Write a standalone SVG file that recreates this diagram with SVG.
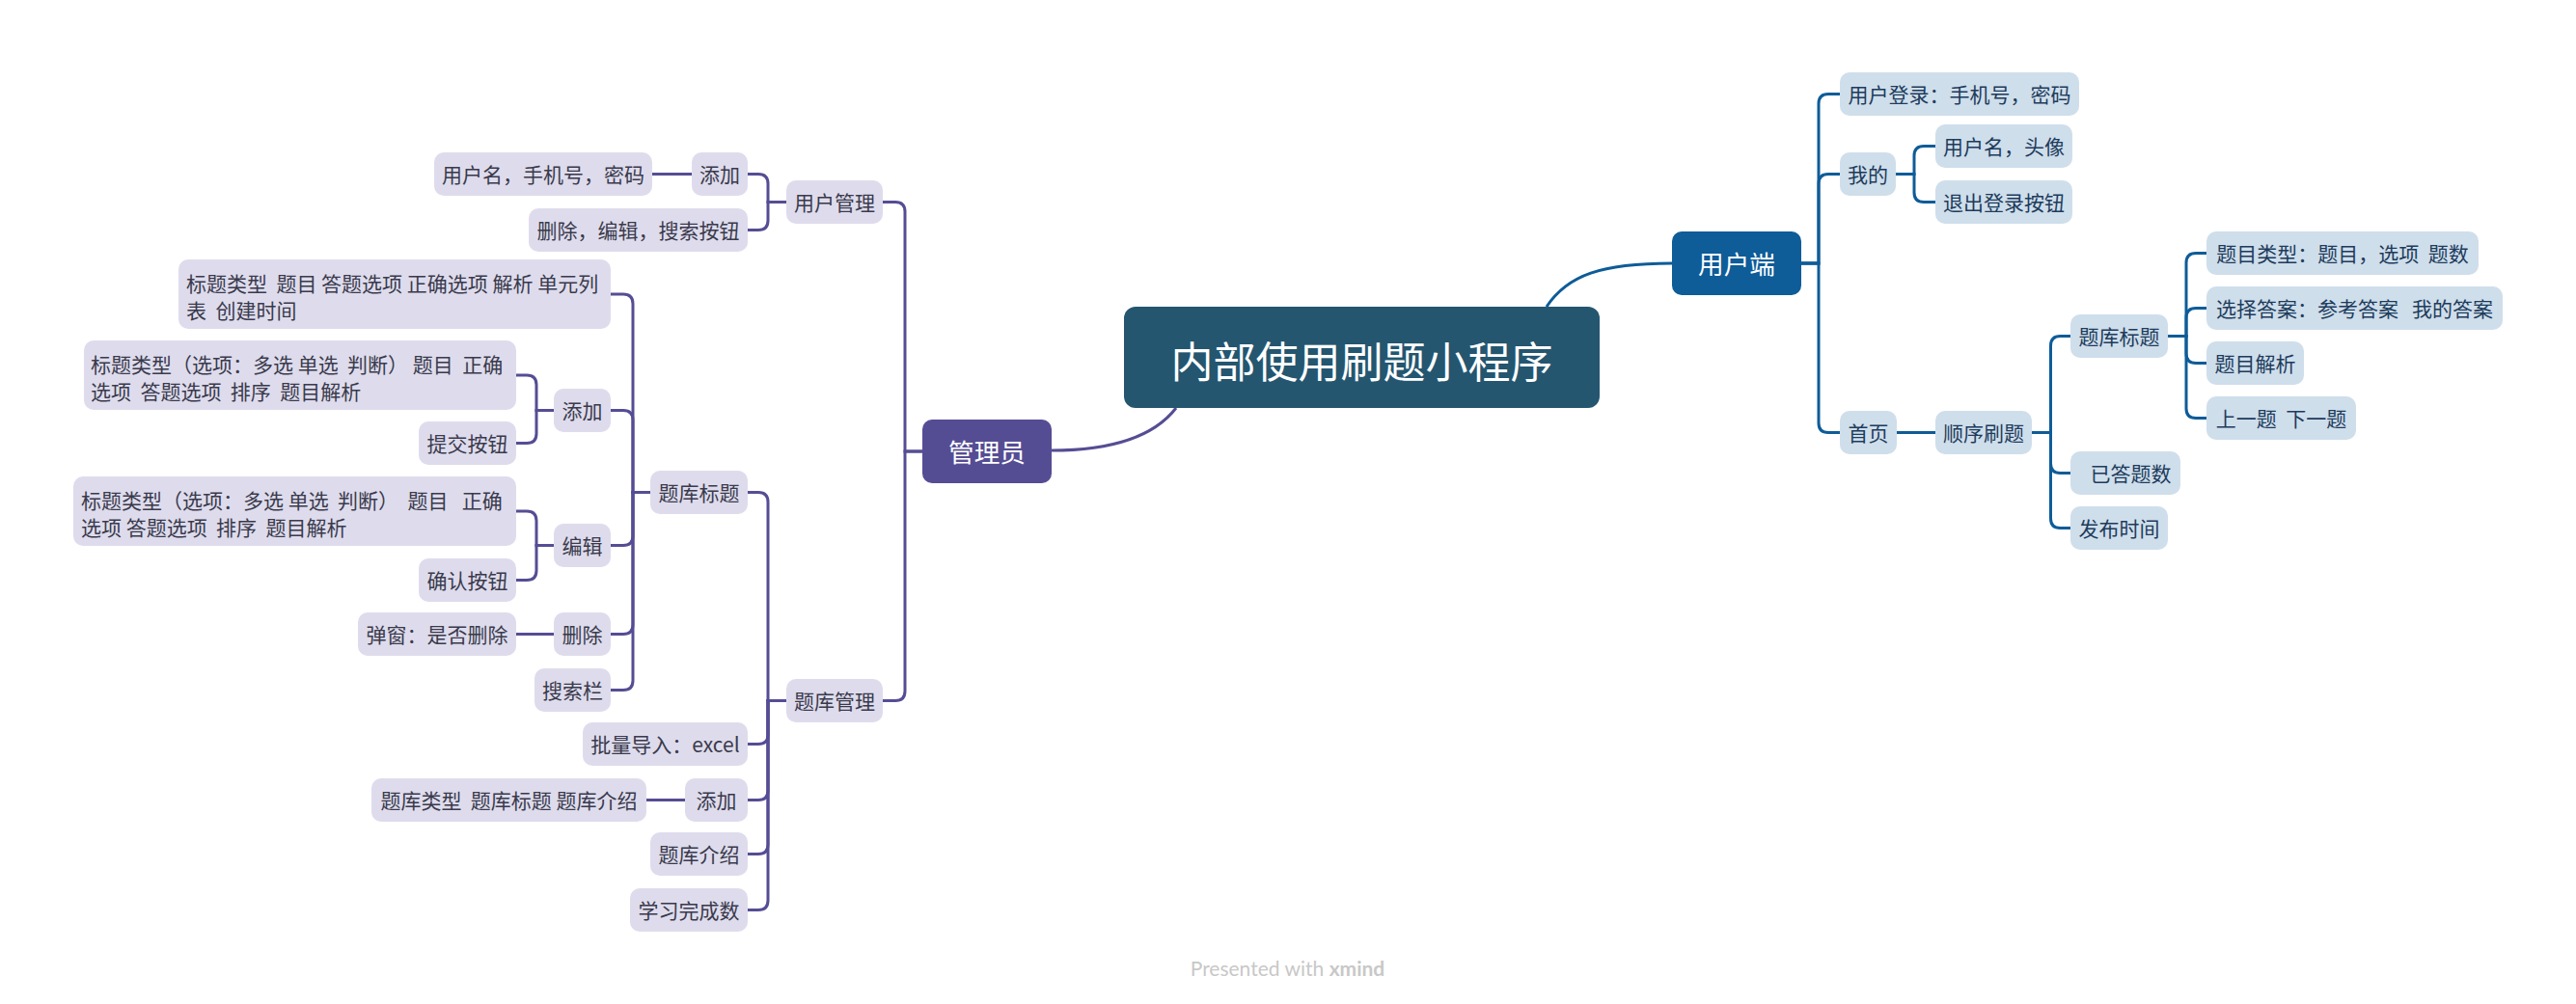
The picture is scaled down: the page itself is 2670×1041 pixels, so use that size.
<svg xmlns="http://www.w3.org/2000/svg" width="2670" height="1041" viewBox="0 0 2670 1041">
<style>
text{font-family:"Noto Sans CJK SC","Noto Sans",sans-serif;font-size:21px}
.L rect{fill:#dedcec}
.L text{fill:#3a3a4c;text-anchor:middle}
.R rect{fill:#cfdeeb}
.R text{fill:#1d3c5c;text-anchor:middle}
.L text.s,.R text.s{text-anchor:start}
.pc{fill:none;stroke:#554d94;stroke-width:3}
.bc{fill:none;stroke:#0e5c98;stroke-width:3}
.main text{fill:#ffffff;text-anchor:middle;font-size:26.67px}
#root text{fill:#ffffff;text-anchor:middle;font-size:44px}
#footer{font-family:Lato,"Open Sans",sans-serif;font-size:21px;fill:#c8c8c8;text-anchor:middle}
</style>
<rect width="2670" height="1041" fill="#ffffff"/>
<g id="connectors">
<path class="pc" stroke-width="4" d="M1219,423 Q1185,467 1090,467"/>
<path class="bc" stroke-width="4" d="M1603,318 C1625,285 1660,273 1733,273"/>
<path class="pc" d="M956,468 H938 V219.5 Q938,209.5 928,209.5 H915"/>
<path class="pc" d="M956,468 H938 V716.5 Q938,726.5 928,726.5 H915"/>
<path class="pc" d="M815,209.5 H796 V190.5 Q796,180.5 786,180.5 H775"/>
<path class="pc" d="M815,209.5 H796 V228.5 Q796,238.5 786,238.5 H775"/>
<path class="pc" d="M717,180.5 H676"/>
<path class="pc" d="M815,726.5 H796 V520.5 Q796,510.5 786,510.5 H775"/>
<path class="pc" d="M815,726.5 H796 V761.5 Q796,771.5 786,771.5 H775"/>
<path class="pc" d="M815,726.5 H796 V819.5 Q796,829.5 786,829.5 H775"/>
<path class="pc" d="M815,726.5 H796 V875.5 Q796,885.5 786,885.5 H775"/>
<path class="pc" d="M815,726.5 H796 V933.5 Q796,943.5 786,943.5 H775"/>
<path class="pc" d="M674,510.5 H656 V315 Q656,305 646,305 H633"/>
<path class="pc" d="M674,510.5 H656 V435.5 Q656,425.5 646,425.5 H633"/>
<path class="pc" d="M674,510.5 H656 V555.5 Q656,565.5 646,565.5 H633"/>
<path class="pc" d="M674,510.5 H656 V647.5 Q656,657.5 646,657.5 H633"/>
<path class="pc" d="M674,510.5 H656 V705.5 Q656,715.5 646,715.5 H633"/>
<path class="pc" d="M574,425.5 H556 V399 Q556,389 546,389 H535"/>
<path class="pc" d="M574,425.5 H556 V449.5 Q556,459.5 546,459.5 H535"/>
<path class="pc" d="M574,565.5 H556 V540 Q556,530 546,530 H535"/>
<path class="pc" d="M574,565.5 H556 V591.5 Q556,601.5 546,601.5 H535"/>
<path class="pc" d="M574,657.5 H535"/>
<path class="pc" d="M710,829.5 H670"/>
<path class="bc" d="M1867,273 H1885 V107.5 Q1885,97.5 1895,97.5 H1907"/>
<path class="bc" d="M1867,273 H1885 V190.5 Q1885,180.5 1895,180.5 H1907"/>
<path class="bc" d="M1867,273 H1885 V438.5 Q1885,448.5 1895,448.5 H1907"/>
<path class="bc" d="M1965,180.5 H1984 V161.5 Q1984,151.5 1994,151.5 H2006"/>
<path class="bc" d="M1965,180.5 H1984 V199.5 Q1984,209.5 1994,209.5 H2006"/>
<path class="bc" d="M1966,448.5 H2006"/>
<path class="bc" d="M2106,448.5 H2125.5 V358.5 Q2125.5,348.5 2135.5,348.5 H2146"/>
<path class="bc" d="M2106,448.5 H2125.5 V480.5 Q2125.5,490.5 2135.5,490.5 H2146"/>
<path class="bc" d="M2106,448.5 H2125.5 V537.5 Q2125.5,547.5 2135.5,547.5 H2146"/>
<path class="bc" d="M2247,348.5 H2266 V272.5 Q2266,262.5 2276,262.5 H2287"/>
<path class="bc" d="M2247,348.5 H2266 V329.5 Q2266,319.5 2276,319.5 H2287"/>
<path class="bc" d="M2247,348.5 H2266 V366.5 Q2266,376.5 2276,376.5 H2287"/>
<path class="bc" d="M2247,348.5 H2266 V423.5 Q2266,433.5 2276,433.5 H2287"/>
</g>
<g id="root">
<rect x="1165" y="318" width="493" height="105" rx="12" fill="#245670"/>
<text x="1411.5" y="392">内部使用刷题小程序</text>
</g>
<g id="admin" class="main"><rect x="956" y="435" width="134" height="66" rx="10" fill="#554d94"/><text x="1023" y="479">管理员</text></g>
<g id="user" class="main"><rect x="1733" y="240" width="134" height="66" rx="10" fill="#0e5c98"/><text x="1800" y="284">用户端</text></g>
<g class="L">
<g id="user_mgmt"><rect x="815" y="187" width="100" height="45" rx="10"/><text x="865" y="218">用户管理</text></g>
<g id="user_add"><rect x="717" y="158" width="58" height="45" rx="10"/><text x="746" y="189">添加</text></g>
<g id="user_fields"><rect x="450" y="158" width="226" height="45" rx="10"/><text x="563" y="189">用户名，手机号，密码</text></g>
<g id="user_ops"><rect x="548" y="216" width="227" height="45" rx="10"/><text x="661.5" y="247">删除，编辑，搜索按钮</text></g>
<g id="bank_mgmt"><rect x="815" y="704" width="100" height="45" rx="10"/><text x="865" y="735">题库管理</text></g>
<g id="bank_title"><rect x="674" y="488" width="101" height="45" rx="10"/><text x="724.5" y="519">题库标题</text></g>
<g id="bt_fields"><rect x="185" y="269" width="448" height="72" rx="10"/><text class="s" x="193" y="302" xml:space="preserve">标题类型  题目 答题选项 正确选项 解析 单元列</text><text class="s" x="193" y="330" xml:space="preserve">表  创建时间</text></g>
<g id="bt_add"><rect x="574" y="403" width="59" height="45" rx="10"/><text x="603.5" y="434">添加</text></g>
<g id="bt_add_fields"><rect x="87" y="353" width="448" height="72" rx="10"/><text class="s" x="94" y="386" xml:space="preserve">标题类型（选项：多选 单选  判断） 题目  正确</text><text class="s" x="94" y="414" xml:space="preserve">选项  答题选项  排序  题目解析</text></g>
<g id="bt_submit"><rect x="434" y="437" width="101" height="45" rx="10"/><text x="484.5" y="468">提交按钮</text></g>
<g id="bt_edit"><rect x="574" y="543" width="59" height="45" rx="10"/><text x="603.5" y="574">编辑</text></g>
<g id="bt_edit_fields"><rect x="76" y="494" width="459" height="72" rx="10"/><text class="s" x="84" y="527" xml:space="preserve">标题类型（选项：多选 单选  判断）  题目   正确</text><text class="s" x="84" y="555" xml:space="preserve">选项 答题选项  排序  题目解析</text></g>
<g id="bt_confirm"><rect x="434" y="579" width="101" height="45" rx="10"/><text x="484.5" y="610">确认按钮</text></g>
<g id="bt_del"><rect x="574" y="635" width="59" height="45" rx="10"/><text x="603.5" y="666">删除</text></g>
<g id="bt_del_popup"><rect x="371" y="635" width="164" height="45" rx="10"/><text x="453" y="666">弹窗：是否删除</text></g>
<g id="bt_search"><rect x="554" y="693" width="79" height="45" rx="10"/><text x="593.5" y="724">搜索栏</text></g>
<g id="bulk"><rect x="604" y="749" width="171" height="45" rx="10"/><text x="689.5" y="780">批量导入：excel</text></g>
<g id="bank_add"><rect x="710" y="807" width="65" height="45" rx="10"/><text x="742.5" y="838">添加</text></g>
<g id="bank_add_fields"><rect x="385" y="807" width="285" height="45" rx="10"/><text x="527.5" y="838" xml:space="preserve">题库类型  题库标题 题库介绍</text></g>
<g id="bank_intro"><rect x="674" y="863" width="101" height="45" rx="10"/><text x="724.5" y="894">题库介绍</text></g>
<g id="study"><rect x="653" y="921" width="122" height="45" rx="10"/><text x="714" y="952">学习完成数</text></g>
</g>
<g class="R">
<g id="login"><rect x="1907" y="75" width="248" height="45" rx="10"/><text x="2031" y="106">用户登录：手机号，密码</text></g>
<g id="mine"><rect x="1907" y="158" width="58" height="45" rx="10"/><text x="1936" y="189">我的</text></g>
<g id="mine_name"><rect x="2006" y="129" width="142" height="45" rx="10"/><text x="2077" y="160">用户名，头像</text></g>
<g id="mine_logout"><rect x="2006" y="187" width="142" height="45" rx="10"/><text x="2077" y="218">退出登录按钮</text></g>
<g id="home"><rect x="1907" y="426" width="59" height="45" rx="10"/><text x="1936.5" y="457">首页</text></g>
<g id="seq"><rect x="2006" y="426" width="100" height="45" rx="10"/><text x="2056" y="457">顺序刷题</text></g>
<g id="r_title"><rect x="2146" y="326" width="101" height="45" rx="10"/><text x="2196.5" y="357">题库标题</text></g>
<g id="answered"><rect x="2146" y="468" width="114" height="45" rx="10"/><text x="2208.5" y="499">已答题数</text></g>
<g id="pub"><rect x="2146" y="525" width="101" height="45" rx="10"/><text x="2196.5" y="556">发布时间</text></g>
<g id="q_type"><rect x="2287" y="240" width="282" height="45" rx="10"/><text x="2428" y="271" xml:space="preserve">题目类型：题目，选项  题数</text></g>
<g id="q_ans"><rect x="2287" y="297" width="307" height="45" rx="10"/><text x="2440.5" y="328" xml:space="preserve">选择答案：参考答案   我的答案</text></g>
<g id="q_expl"><rect x="2287" y="354" width="101" height="45" rx="10"/><text x="2337.5" y="385">题目解析</text></g>
<g id="q_nav"><rect x="2287" y="411" width="155" height="45" rx="10"/><text x="2364.5" y="442" xml:space="preserve">上一题  下一题</text></g>
</g>
<text id="footer" x="1334.5" y="1012">Presented with <tspan font-weight="bold">xmind</tspan></text>
</svg>
